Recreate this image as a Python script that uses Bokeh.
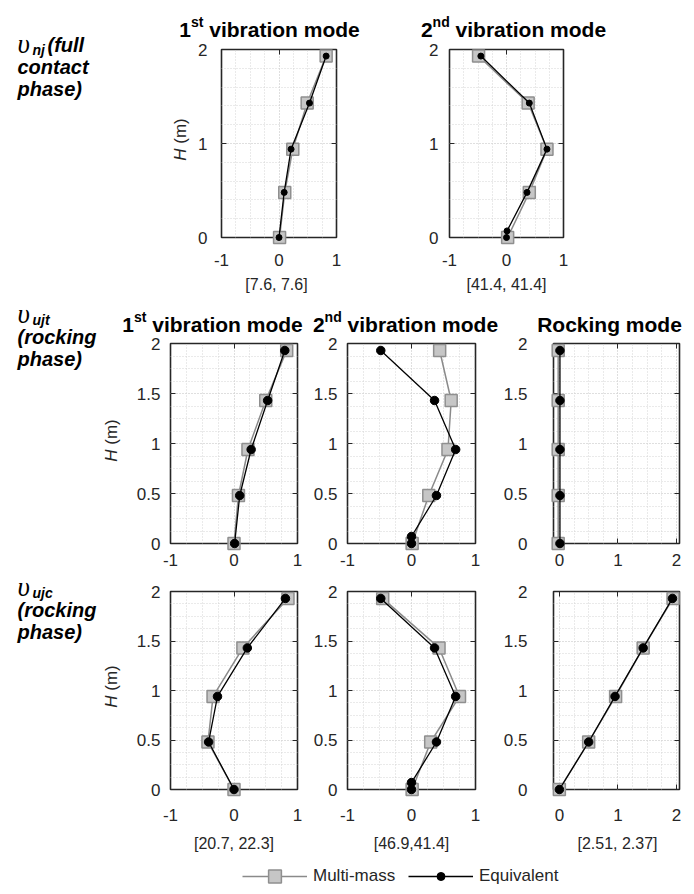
import math
from bokeh.plotting import figure
from bokeh.layouts import column, row
from bokeh.models import FixedTicker, LinearAxis, Legend, LegendItem, Range1d
from bokeh.core.properties import value
from bokeh.embed import file_html
from bokeh.resources import INLINE

# Node heights along the wall (m)
H_NODES = [0.0, 0.48, 0.94, 1.43, 1.93]
H_NODES_EQ2 = [0.0, 0.07, 0.48, 0.94, 1.43, 1.93]

# v_nj, full contact phase
NJ1_MM = [0.01, 0.10, 0.24, 0.49, 0.82]
NJ1_EQ = [0.0, 0.09, 0.21, 0.53, 0.82]
NJ2_MM = [0.02, 0.40, 0.71, 0.38, -0.49]
NJ2_EQ = [0.0, 0.01, 0.36, 0.71, 0.40, -0.45]

# v_ujt, rocking phase
UJT1_MM = [0.0, 0.07, 0.22, 0.50, 0.83]
UJT1_EQ = [0.01, 0.09, 0.27, 0.53, 0.80]
UJT2_MM = [0.01, 0.27, 0.57, 0.62, 0.44]
UJT2_EQ = [0.0, 0.0, 0.39, 0.69, 0.36, -0.48]
UJTR_MM = [-0.02, -0.02, -0.02, -0.02, -0.02]
UJTR_EQ = [0.01, 0.01, 0.01, 0.01, 0.01]

# v_ujc, rocking phase
UJC1_MM = [0.0, -0.41, -0.33, 0.14, 0.85]
UJC1_EQ = [0.0, -0.40, -0.26, 0.21, 0.81]
UJC2_MM = [0.01, 0.30, 0.75, 0.43, -0.45]
UJC2_EQ = [0.0, 0.0, 0.39, 0.69, 0.36, -0.48]
UJCR_MM = [0.0, 0.50, 0.96, 1.43, 1.94]
UJCR_EQ = [0.0, 0.50, 0.95, 1.43, 1.93]

# Frequencies [multi-mass, equivalent] shown under the panels
FREQ_NJ1 = "[7.6, 7.6]"
FREQ_NJ2 = "[41.4, 41.4]"
FREQ_UJC1 = "[20.7, 22.3]"
FREQ_UJC2 = "[46.9,41.4]"
FREQ_UJCR = "[2.51, 2.37]"

X_TICKS = [-1, 0, 1]
X_TICK_LABELS = ["-1", "0", "1"]
X_TICKS_ROCK = [0, 1, 2]
X_TICK_LABELS_ROCK = ["0", "1", "2"]
Y_TICKS_TOP = [0, 1, 2]
Y_TICK_LABELS_TOP = ["0", "1", "2"]
Y_TICKS = [0, 0.5, 1, 1.5, 2]
Y_TICK_LABELS = ["0", "0.5", "1", "1.5", "2"]

SANS = "Liberation Sans"
SERIF = "Liberation Serif"
INK = "#262626"
MM_LINE = "#8a8a8a"
MM_FILL = "#c6c6c6"
MM_EDGE = "#8f8f8f"
GRID = "#d4d4d4"
TEXT_RAISE = 5  # alphabetic baseline correction for the svg text

# Advance widths (per 1000 em) of Liberation Sans Bold / Regular
AW_BOLD = {'1': 556, '2': 556, 's': 556, 't': 333, 'n': 611, 'd': 611, ' ': 278,
           'v': 556, 'i': 278, 'b': 611, 'r': 389, 'a': 556, 'o': 611, 'm': 889,
           'e': 556, 'R': 722, 'c': 556, 'k': 556, 'g': 611}
AW_REG = {'H': 722, ' ': 278, '(': 333, 'm': 833, ')': 333}


def text_width(s, size, table):
    return sum(table.get(c, 556) for c in s) * size / 1000.0


def make_panel(cx0, cw, fl, fr, ry0, rh, ft, fb, xr, yr,
               xt, xtl, xminor, yt, ytl, yminor, xstand, ystand):
    p = figure(width=cw, height=rh, x_range=Range1d(*xr), y_range=Range1d(*yr),
               output_backend="svg", toolbar_location=None,
               min_border_left=fl - cx0, min_border_right=cx0 + cw - fr,
               min_border_top=ft - ry0, min_border_bottom=ry0 + rh - fb)
    p.background_fill_color = "white"
    p.border_fill_color = "white"
    p.outline_line_color = INK
    p.outline_line_width = 1.6
    p.outline_line_alpha = 1.0

    xtick = FixedTicker(ticks=xt, minor_ticks=xminor)
    ytick = FixedTicker(ticks=yt, minor_ticks=yminor)
    p.xaxis.ticker = xtick
    p.yaxis.ticker = ytick
    p.xaxis.major_label_overrides = {float(t): l for t, l in zip(xt, xtl)}
    p.yaxis.major_label_overrides = {float(t): l for t, l in zip(yt, ytl)}
    for ax, st in ((p.xaxis, xstand), (p.yaxis, ystand)):
        ax.axis_line_color = None
        ax.major_tick_in = 5
        ax.major_tick_out = 0
        ax.minor_tick_in = 0
        ax.minor_tick_out = 0
        ax.major_tick_line_color = INK
        ax.major_label_text_font = SANS
        ax.major_label_text_font_size = "17px"
        ax.major_label_text_color = INK
        ax.major_label_standoff = st

    # tick marks on the top and right edges of the box
    for loc, tk in (("above", xtick), ("right", ytick)):
        ax = LinearAxis(ticker=tk, axis_line_color=None, major_tick_in=5, major_tick_out=0,
                        minor_tick_in=0, minor_tick_out=0, major_tick_line_color=INK,
                        major_label_text_font_size="0px", major_label_standoff=0)
        p.add_layout(ax, loc)

    for g in (p.xgrid, p.ygrid):
        g.grid_line_color = GRID
        g.grid_line_dash = "1 2"
        g.grid_line_width = 1
        g.minor_grid_line_color = GRID
        g.minor_grid_line_dash = "1 2"
        g.minor_grid_line_width = 1

    spec = dict(fl=fl, ft=ft, fr=fr, fb=fb, xr=xr, yr=yr, cx0=cx0, ry0=ry0)
    return p, spec


def put(p, sp, px, py, text, size, style="normal", font=SANS, align="left",
        angle=0.0, color="black", raise_px=TEXT_RAISE):
    # px, py: page position of the text anchor (baseline); the anchor is the
    # frame's top-left corner shifted by a pixel offset
    p.text(x=[sp["xr"][0]], y=[sp["yr"][1]], text=[text],
           x_offset=px - sp["fl"], y_offset=py - raise_px - sp["ft"],
           text_font=value(font), text_font_size=f"{size}px",
           text_font_style=style, text_align=align, text_baseline="alphabetic",
           angle=angle, text_color=color, level="overlay")


def title(p, sp, cx, by, num, sup, rest, size=21):
    small = round(size * 0.66)
    gap = text_width(" ", size, AW_BOLD) if num else 0.0
    parts = [(num, size, 0, 0.0), (sup, small, 8, 0.0), (rest, size, 0, gap)]
    total = sum(text_width(t, s, AW_BOLD) + g for t, s, _, g in parts)
    x = cx - total / 2.0
    for t, s, rise, g in parts:
        x += g
        if t:
            put(p, sp, x, by - rise, t, s, style="bold")
            x += text_width(t, s, AW_BOLD)


def height_label(p, sp, bx, cy, size=17):
    w_h = text_width("H ", size, AW_REG)
    w_all = text_width("H (m)", size, AW_REG)
    y0 = cy + w_all / 2.0
    put(p, sp, bx, y0, "H", size, style="italic", angle=math.pi / 2, color=INK,
        raise_px=0)
    put(p, sp, bx, y0 - w_h, "(m)", size, angle=math.pi / 2, color=INK, raise_px=0)


def row_label(p, sp, x, base, sub, lines, size=20):
    put(p, sp, x, base, "\u03c5", 27, style="italic", font=SERIF)
    put(p, sp, x + 15, base + 6, sub, 14, style="bold italic")
    if lines[0]:
        put(p, sp, x + 30, base + 1, lines[0], size, style="bold italic")
    for i, ln in enumerate(lines[1:]):
        put(p, sp, x, base + 23 + 22 * i, ln, size, style="bold italic")


def draw(p, mm_x, eq_x, eq_h, small=False):
    p.line(mm_x, H_NODES, line_color=MM_LINE, line_width=1.5, level="overlay")
    p.scatter(mm_x, H_NODES, marker="square", size=12, fill_color=MM_FILL,
              line_color=MM_EDGE, line_width=1.5, level="overlay")
    p.line(eq_x, eq_h, line_color="black", line_width=1.3, level="overlay")
    p.scatter(eq_x, eq_h, marker="circle", size=6 if small else 8.5,
              fill_color="black", line_color="black", level="overlay")


def steps(a, b, d):
    n = int(round((b - a) / d))
    return [round(a + d * i, 4) for i in range(n + 1)]


X_MINOR = steps(-1, 1, 0.25)
X_MINOR_ROCK = steps(0, 2, 0.25)
Y_MINOR_TOP = steps(0, 2, 0.2)
Y_MINOR = steps(0, 2, 0.125)

XR = (-1, 1)
XR_ROCK = (-0.1, 2.05)
YR = (0, 2)

# ---- row 1: full contact phase ----
R1Y, R1H, R1T, R1B = 0, 298, 49, 237
p11, s11 = make_panel(0, 395, 221, 336, R1Y, R1H, R1T, R1B, XR, YR,
                      X_TICKS, X_TICK_LABELS, X_MINOR, Y_TICKS_TOP, Y_TICK_LABELS_TOP,
                      Y_MINOR_TOP, 16, 14)
p12, s12 = make_panel(395, 299, 449, 563, R1Y, R1H, R1T, R1B, XR, YR,
                      X_TICKS, X_TICK_LABELS, X_MINOR, Y_TICKS_TOP, Y_TICK_LABELS_TOP,
                      Y_MINOR_TOP, 16, 11)
draw(p11, NJ1_MM, NJ1_EQ, H_NODES, small=True)
draw(p12, NJ2_MM, NJ2_EQ, H_NODES_EQ2, small=True)
title(p11, s11, 269, 34, "1", "st", "vibration mode")
title(p12, s12, 513, 34, "2", "nd", "vibration mode")
put(p11, s11, 276, 289, FREQ_NJ1, 16, align="center", color=INK)
put(p12, s12, 506, 289, FREQ_NJ2, 16, align="center", color=INK)
height_label(p11, s11, 180, 139)
row_label(p11, s11, 17, 48, "nj", ["(full", "contact", "phase)"])

# ---- row 2: rocking phase, v_ujt ----
R2Y, R2H, R2T, R2B = 298, 274, 343, 543
p21, s21 = make_panel(0, 307, 170, 297, R2Y, R2H, R2T, R2B, XR, YR,
                      X_TICKS, X_TICK_LABELS, X_MINOR, Y_TICKS, Y_TICK_LABELS,
                      Y_MINOR, 10, 10)
p22, s22 = make_panel(307, 193, 347, 475, R2Y, R2H, R2T, R2B, XR, YR,
                      X_TICKS, X_TICK_LABELS, X_MINOR, Y_TICKS, Y_TICK_LABELS,
                      Y_MINOR, 10, 10)
p23, s23 = make_panel(500, 194, 551, 679, R2Y, R2H, R2T, R2B, XR_ROCK, YR,
                      X_TICKS_ROCK, X_TICK_LABELS_ROCK, X_MINOR_ROCK, Y_TICKS,
                      Y_TICK_LABELS, Y_MINOR, 10, 26)
draw(p21, UJT1_MM, UJT1_EQ, H_NODES)
draw(p22, UJT2_MM, UJT2_EQ, H_NODES_EQ2)
draw(p23, UJTR_MM, UJTR_EQ, H_NODES)
title(p21, s21, 212, 329, "1", "st", "vibration mode")
title(p22, s22, 405, 329, "2", "nd", "vibration mode")
title(p23, s23, 607, 329, "", "", "Rocking mode")
height_label(p21, s21, 111, 440)
row_label(p21, s21, 17, 318, "ujt", ["", "(rocking", "phase)"])

# ---- row 3: rocking phase, v_ujc ----
R3Y, R3H, R3T, R3B = 572, 286, 591, 789
p31, s31 = make_panel(0, 307, 170, 297, R3Y, R3H, R3T, R3B, XR, YR,
                      X_TICKS, X_TICK_LABELS, X_MINOR, Y_TICKS, Y_TICK_LABELS,
                      Y_MINOR, 19, 10)
p32, s32 = make_panel(307, 193, 347, 475, R3Y, R3H, R3T, R3B, XR, YR,
                      X_TICKS, X_TICK_LABELS, X_MINOR, Y_TICKS, Y_TICK_LABELS,
                      Y_MINOR, 19, 10)
p33, s33 = make_panel(500, 194, 551, 679, R3Y, R3H, R3T, R3B, XR_ROCK, YR,
                      X_TICKS_ROCK, X_TICK_LABELS_ROCK, X_MINOR_ROCK, Y_TICKS,
                      Y_TICK_LABELS, Y_MINOR, 19, 26)
draw(p31, UJC1_MM, UJC1_EQ, H_NODES)
draw(p32, UJC2_MM, UJC2_EQ, H_NODES_EQ2)
draw(p33, UJCR_MM, UJCR_EQ, H_NODES)
put(p31, s31, 233.5, 848, FREQ_UJC1, 16, align="center", color=INK)
put(p32, s32, 411, 848, FREQ_UJC2, 16, align="center", color=INK)
put(p33, s33, 615, 848, FREQ_UJCR, 16, align="center", color=INK)
height_label(p31, s31, 111, 686)
row_label(p31, s31, 17, 591, "ujc", ["", "(rocking", "phase)"])

# ---- legend strip ----
NAN = float("nan")
leg = figure(width=694, height=36, output_backend="svg", toolbar_location=None,
             x_range=Range1d(0, 1), y_range=Range1d(0, 1), min_border=0)
leg.axis.visible = False
leg.grid.visible = False
leg.outline_line_color = None
r_mm_l = leg.line([NAN], [NAN], line_color=MM_LINE, line_width=1.5)
r_mm_s = leg.scatter([NAN], [NAN], marker="square", size=12, fill_color=MM_FILL,
                     line_color=MM_EDGE, line_width=1.5)
r_eq_l = leg.line([NAN], [NAN], line_color="black", line_width=1.5)
r_eq_s = leg.scatter([NAN], [NAN], marker="circle", size=8, fill_color="black",
                     line_color="black")
common = dict(orientation="horizontal", glyph_width=65, label_standoff=6, spacing=0,
              padding=0, margin=0, border_line_color=None, background_fill_alpha=0,
              label_text_font=SANS, label_text_font_size="17px", label_text_color=INK)
leg.add_layout(Legend(items=[LegendItem(label="Multi-mass", renderers=[r_mm_l, r_mm_s])],
                      location=(242, 2), glyph_height=32, **common))
leg.add_layout(Legend(items=[LegendItem(label="Equivalent", renderers=[r_eq_l, r_eq_s])],
                      location=(408, 8), glyph_height=20, **common))

layout = column(row(p11, p12), row(p21, p22, p23), row(p31, p32, p33), leg)
open("out.html", "w").write(file_html(layout, INLINE))
